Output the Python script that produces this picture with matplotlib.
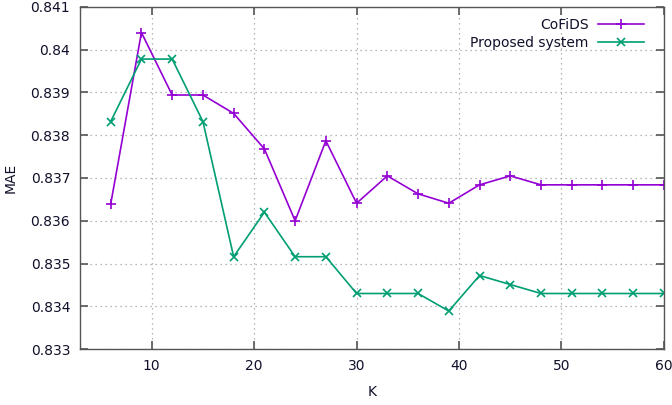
import matplotlib
matplotlib.use("Agg")
import matplotlib.pyplot as plt
from matplotlib.ticker import FormatStrFormatter, MultipleLocator

# neighbourhood size K and mean absolute error of each method
k_values = [6, 9, 12, 15, 18, 21, 24, 27, 30, 33, 36, 39, 42, 45, 48, 51, 54, 57, 60]
mae_cofids = [0.83639, 0.8404, 0.83894, 0.83894, 0.83851, 0.83768, 0.83600, 0.83787,
              0.83641, 0.83705, 0.83663, 0.83641, 0.83684, 0.83705, 0.83684, 0.83684,
              0.83684, 0.83684, 0.83684]
mae_proposed = [0.83832, 0.83978, 0.83978, 0.83832, 0.83516, 0.83620, 0.83516, 0.83516,
                0.83430, 0.83430, 0.83430, 0.83389, 0.83472, 0.83451, 0.83430, 0.83430,
                0.83430, 0.83430, 0.83430]

plt.rcParams['font.family'] = ['DejaVu Sans']
plt.rcParams['font.size'] = 10

fig = plt.figure(figsize=(6.72, 4.05), dpi=100)
ax = fig.add_axes([0.119, 0.138, 0.869, 0.845])

ax.plot(k_values, mae_cofids, color='#9400d3', lw=1.2, marker='+', ms=7.5, mew=1.2,
        label='CoFiDS')
ax.plot(k_values, mae_proposed, color='#009e73', lw=1.2, marker='x', ms=5.5, mew=1.2,
        label='Proposed system')

ax.set_xlim(3, 60)
ax.set_ylim(0.833, 0.841)
ax.xaxis.set_major_locator(MultipleLocator(10))
ax.yaxis.set_major_locator(MultipleLocator(0.001))
ax.yaxis.set_major_formatter(FormatStrFormatter('%g'))

ax.grid(True, color='#a0a0a0', linestyle=(0, (1, 3)), linewidth=0.9)
for s in ax.spines.values():
    s.set_color('#555555')
    s.set_linewidth(1.0)
ax.tick_params(direction='in', length=6, width=1.2, color='#555555',
               top=True, right=True, labelcolor='#10102a', pad=7)

ax.set_xlabel('K', color='#10102a', labelpad=9)
ax.set_ylabel('MAE', color='#10102a', labelpad=9)

leg = ax.legend(loc='upper right', frameon=False, markerfirst=False,
                handlelength=3.3, labelspacing=0.3, borderaxespad=0.4,
                handletextpad=0.7, bbox_to_anchor=(0.985, 1.0))
for t in leg.get_texts():
    t.set_color('#10102a')

fig.savefig('out.png', dpi=100)
